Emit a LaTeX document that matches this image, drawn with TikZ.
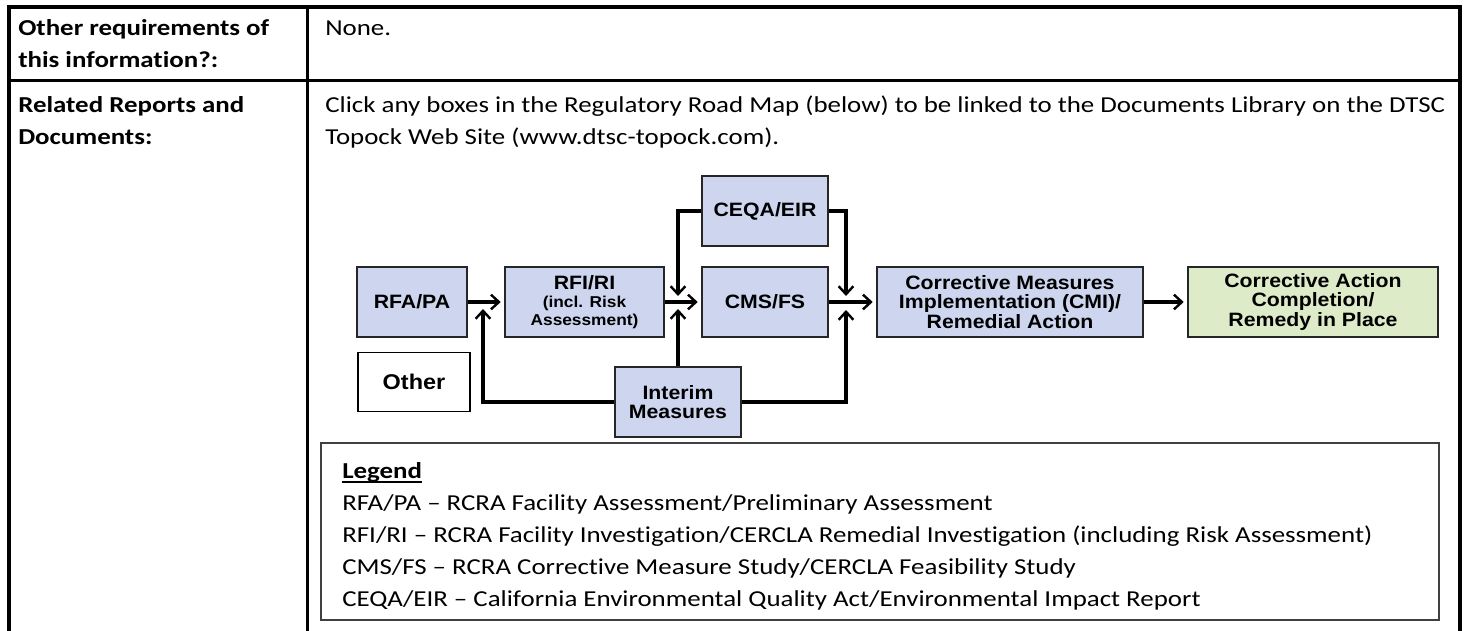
\documentclass[tikz,border=0pt]{standalone}
\usepackage{fontspec}
\setmainfont{Carlito}[FakeStretch=1.18,Ligatures=NoCommon]
\newfontfamily\diagfont{Liberation Sans}[FakeStretch=1.1]
\usetikzlibrary{arrows.meta}

\definecolor{boxblue}{RGB}{205,214,238}
\definecolor{boxgreen}{RGB}{222,235,200}

\newcommand\tblfont{\fontsize{17.1}{20}\selectfont}
\newcommand\boxfont{\diagfont\bfseries\fontsize{14.5}{14.6}\selectfont}
\newcommand\subfont{\diagfont\bfseries\fontsize{11.8}{12.6}\selectfont}

\begin{document}
\begin{tikzpicture}[x=0.75pt,y=-0.75pt,
  txt/.style={anchor=base west, inner sep=0pt, font=\tblfont},
  head/.style={txt, font=\tblfont\bfseries},
  rulethick/.style={line width=3pt, line cap=rect},
  rulethin/.style={line width=2.25pt},
  stage/.style={draw=black!85, line width=1.4pt, fill=boxblue,
    minimum height=52.5pt, inner sep=0pt, align=center, font=\boxfont},
  done/.style={stage, fill=boxgreen},
  plain/.style={stage, fill=white, draw=black},
  flow/.style={line width=2.3pt,
    -{Straight Barb[length=6pt,width=11pt,line width=1.8pt]}},
  legendframe/.style={draw=black!75, line width=1.1pt}]

\useasboundingbox (0,0) rectangle (1465,631);

% table frame
\draw[rulethick] (8.5,7) -- (1460,7);
\draw[rulethick] (8.5,7) -- (8.5,640);
\draw[rulethick] (1460,7) -- (1460,640);
\draw[rulethin] (307.5,7) -- (307.5,640);
\draw[rulethin] (8.5,80.5) -- (1460,80.5);

% row 1
\node[head] (r1a) at (18,36) {Other requirements of};
\node[head] (r1b) at (18,68) {this information?:};
\node[txt]  (none) at (325,36) {None.};

% row 2
\node[head] (r2a) at (18,113) {Related Reports and};
\node[head] (r2b) at (18,145) {Documents:};
\node[txt] (click1) at (325,113) {Click any boxes in the Regulatory Road Map (below) to be linked to the Documents Library on the DTSC};
\node[txt] (click2) at (325,145) {Topock Web Site (www.dtsc-topock.com).};

% road map stages
\node[stage, minimum width=82.5pt] (rfa) at (412,302) {RFA/PA};
\node[stage, minimum width=119.25pt] (rfi) at (584.5,302)
  {RFI/RI\\[-1pt]\subfont (incl. Risk\\[-1.5pt]\subfont Assessment)};
\node[stage, minimum width=94.5pt] (ceqa) at (765,211) {CEQA/EIR};
\node[stage, minimum width=94.5pt] (cms) at (765,302) {CMS/FS};
\node[stage, minimum width=199.5pt] (cmi) at (1010,302)
  {Corrective Measures\\Implementation (CMI)/\\Remedial Action};
\node[done, minimum width=187.5pt] (cac) at (1313,302)
  {Corrective Action\\Completion/\\Remedy in Place};
\node[plain, minimum width=84pt, minimum height=44.25pt,
  font=\diagfont\bfseries\fontsize{16}{17}\selectfont] (other) at (414,382) {Other};
\node[stage, minimum width=94.5pt] (interim) at (678,402) {Interim\\Measures};

% arrow end points at the junctions
\coordinate (j1b) at (483,309);
\coordinate (j2t) at (678,296);
\coordinate (j2b) at (678,309);
\coordinate (j3t) at (846,296);
\coordinate (j3b) at (846,310);

% main flow
\draw[flow, shorten >=2.5pt] (rfa) -- (rfi);
\draw[flow, shorten >=2.5pt] (rfi) -- (cms);
\draw[flow, shorten >=2.5pt] (cms) -- (cmi);
\draw[flow, shorten >=2.5pt] (cmi) -- (cac);

% feeds into the junctions
\draw[flow] (interim.west) -| (j1b);
\draw[flow] (ceqa.west) -| (j2t);
\draw[flow] (interim.north) -- (j2b);
\draw[flow] (ceqa.east) -| (j3t);
\draw[flow] (interim.east) -| (j3b);

% legend
\draw[legendframe] (321,443) rectangle (1439,620);
\node[head] (leg) at (342,478) {Legend};
\draw[line width=1.1pt] ([yshift=-3pt]leg.base west) -- ([yshift=-3pt]leg.base east);
\node[txt] (l1) at (342,510) {RFA/PA – RCRA Facility Assessment/Preliminary Assessment};
\node[txt] (l2) at (342,542) {RFI/RI – RCRA Facility Investigation/CERCLA Remedial Investigation (including Risk Assessment)};
\node[txt] (l3) at (342,574) {CMS/FS – RCRA Corrective Measure Study/CERCLA Feasibility Study};
\node[txt] (l4) at (342,606) {CEQA/EIR – California Environmental Quality Act/Environmental Impact Report};
\end{tikzpicture}
\end{document}
